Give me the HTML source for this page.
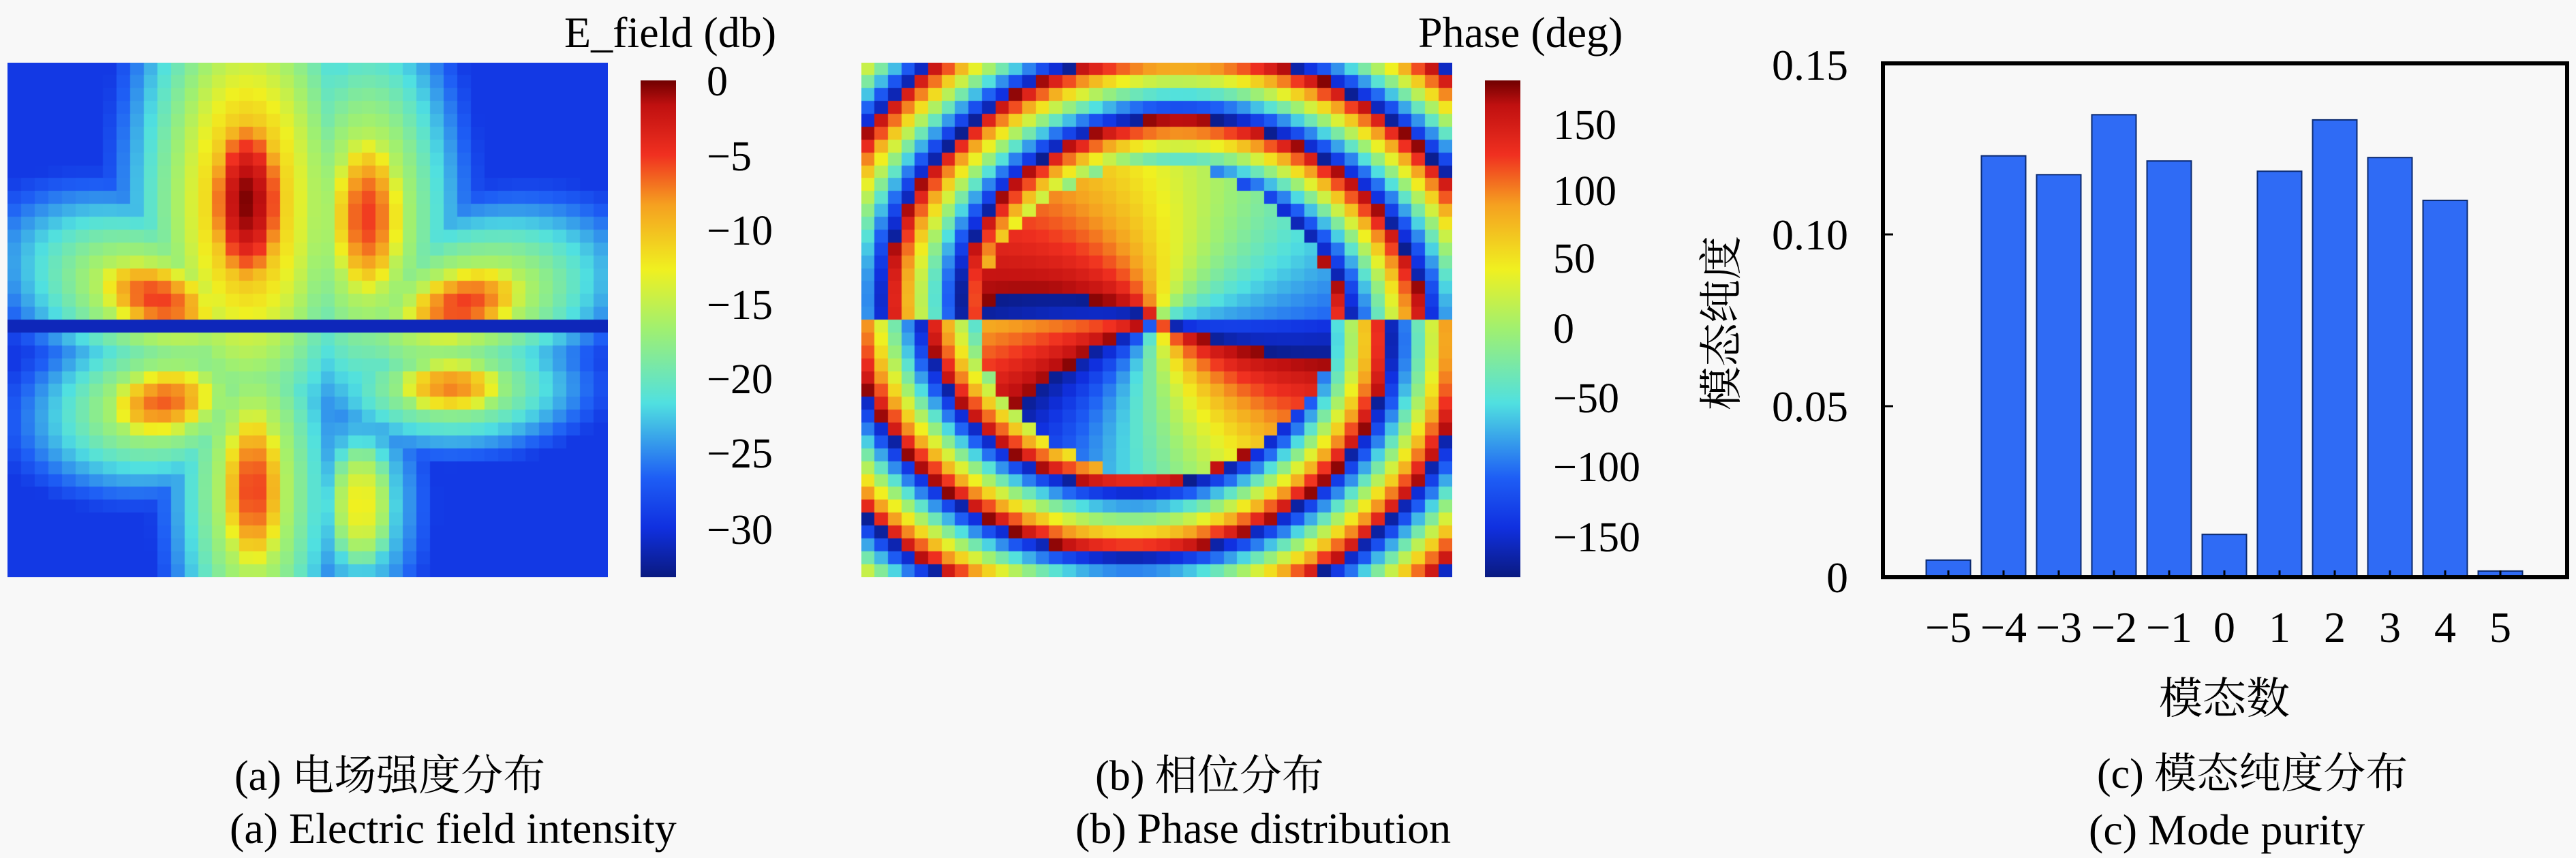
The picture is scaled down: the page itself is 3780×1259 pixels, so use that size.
<!DOCTYPE html>
<html><head><meta charset="utf-8"><style>
html,body{margin:0;padding:0;background:#f8f8f8;}
#root{position:relative;width:3780px;height:1259px;overflow:hidden;background:#f8f8f8;font-family:"Liberation Serif","Noto Serif CJK SC","Noto Sans CJK SC",serif;color:#000;}
.t{position:absolute;white-space:nowrap;font-size:62px;line-height:1;}
canvas{position:absolute;}
.cb{position:absolute;background:linear-gradient(to top,#0a1a80 0%,#1030e0 10%,#1e5ef5 20%,#50e0e0 35%,#a0f070 50%,#f0f020 62%,#f5a020 75%,#f03020 85%,#c01010 95%,#700000 100%);}
</style></head><body><div id="root">
<canvas id="ca" width="881" height="755" style="left:11px;top:92px;background:#1e5ef5"></canvas>
<div class="cb" style="left:940px;top:118px;width:52px;height:729px"></div>
<div class="t" style="left:828px;top:16px;font-size:64px">E_field (db)</div>
<div class="t" style="left:1037px;top:89px">0</div>
<div class="t" style="left:1037px;top:199px">−5</div>
<div class="t" style="left:1037px;top:308px">−10</div>
<div class="t" style="left:1037px;top:417px">−15</div>
<div class="t" style="left:1037px;top:526px">−20</div>
<div class="t" style="left:1037px;top:635px">−25</div>
<div class="t" style="left:1037px;top:747px">−30</div>

<canvas id="cbp" width="867" height="755" style="left:1264px;top:92px;background:#1e5ef5"></canvas>
<div class="cb" style="left:2179px;top:118px;width:52px;height:729px"></div>
<div class="t" style="left:2081px;top:16px;font-size:64px">Phase (deg)</div>
<div class="t" style="left:2279px;top:153px">150</div>
<div class="t" style="left:2279px;top:250px">100</div>
<div class="t" style="left:2279px;top:349px">50</div>
<div class="t" style="left:2279px;top:452px">0</div>
<div class="t" style="left:2279px;top:554px">−50</div>
<div class="t" style="left:2279px;top:655px">−100</div>
<div class="t" style="left:2279px;top:758px">−150</div>

<svg style="position:absolute;left:0;top:0" width="3780" height="1259">
<g id="bars" fill="#2f6bf5" stroke="#0b2a70" stroke-width="2"></g>
<rect x="2763" y="93" width="1004" height="754" fill="none" stroke="#000" stroke-width="6"/>
<g stroke="#000" stroke-width="3">
<line x1="2763" y1="344" x2="2778" y2="344"/><line x1="2763" y1="596" x2="2778" y2="596"/>
</g>
<g id="xt" stroke="#000" stroke-width="3"></g>
<g font-family="Liberation Serif,serif" font-size="64" text-anchor="end">
<text x="2712" y="117">0.15</text><text x="2712" y="366">0.10</text><text x="2712" y="618">0.05</text><text x="2712" y="869">0</text>
</g>
<g id="xl" font-family="Liberation Serif,serif" font-size="64" text-anchor="middle"></g>
<text x="3264" y="1047" font-size="64" text-anchor="middle" font-family="Noto Serif CJK SC,Noto Sans CJK SC,serif">模态数</text>
<text transform="translate(2548,474) rotate(-90)" font-size="64" text-anchor="middle" font-family="Noto Serif CJK SC,Noto Sans CJK SC,serif">模态纯度</text>
</svg>

<div class="t" style="left:344px;top:1108px;width:400px;text-align:center">(a) 电场强度分布</div>
<div class="t" style="left:337px;top:1184px;width:400px;text-align:center;font-size:64px">(a) Electric field intensity</div>
<div class="t" style="left:1575px;top:1108px;width:400px;text-align:center">(b) 相位分布</div>
<div class="t" style="left:1578px;top:1184px;width:400px;text-align:center;font-size:64px">(b) Phase distribution</div>
<div class="t" style="left:3077px;top:1105px;width:400px;text-align:center">(c) 模态纯度分布</div>
<div class="t" style="left:3065px;top:1186px;width:400px;text-align:center;font-size:64px">(c) Mode purity</div>
</div>
<script>
var stops=[[0,[10,26,128]],[0.1,[16,48,224]],[0.2,[30,94,245]],[0.35,[80,224,224]],[0.5,[160,240,112]],[0.62,[240,240,32]],[0.75,[245,160,32]],[0.85,[240,48,32]],[0.95,[192,16,16]],[1,[112,0,0]]];
function cmap(t){t=Math.max(0,Math.min(1,t));for(var i=1;i<stops.length;i++){if(t<=stops[i][0]){var a=stops[i-1],b=stops[i],f=(t-a[0])/(b[0]-a[0]);return 'rgb('+[0,1,2].map(function(k){return Math.round(a[1][k]+(b[1][k]-a[1][k])*f)}).join(',')+')';}}return 'rgb(112,0,0)';}
// panel a
(function(){var c=document.getElementById('ca').getContext('2d');var W=881,H=755,nx=44,ny=40;
var L=[[0.40,0.27,0.045,0.12,0,0],[0.60,0.30,0.045,0.12,-5,0],[0.25,0.46,0.08,0.05,-5,0.5],[0.76,0.47,0.08,0.05,-5,-0.4],[0.26,0.66,0.07,0.05,-6,-0.3],[0.74,0.63,0.07,0.04,-7,0],[0.41,0.83,0.04,0.12,-5,0],[0.59,0.86,0.045,0.10,-12,0]];
for(var j=0;j<ny;j++)for(var i=0;i<nx;i++){var u=(i+0.5)/nx,v=(j+0.5)/ny,best=-29;
for(var k=0;k<L.length;k++){var l=L[k],dx=u-l[0],dy=v-l[1],cs=Math.cos(l[5]),sn=Math.sin(l[5]);var a=(dx*cs+dy*sn)/l[2],b=(-dx*sn+dy*cs)/l[3];var d=Math.sqrt(a*a+b*b);var val=l[4]-6*d*d;if(d>1.3)val=l[4]-10.1-4.5*(d-1.3);best=Math.max(best,val);}
if(j==20)best=Math.min(best,-31);
c.fillStyle=cmap((best+33)/33.3);c.fillRect(Math.floor(u*W-W/nx/2),Math.floor(v*H-H/ny/2),Math.ceil(W/nx)+1,Math.ceil(H/ny)+1);}})();
// panel b
(function(){var c=document.getElementById('cbp').getContext('2d');var W=867,H=755,nx=44,ny=40;
for(var j=0;j<ny;j++)for(var i=0;i<nx;i++){var u=(i+0.5)/nx-0.5,v=(j+0.5)/ny-0.5;var r=Math.sqrt(u*u+v*v),th=Math.atan2(v,u)*180/Math.PI;
var ph=(-2*th*Math.PI/180+r*2*Math.PI/0.13)*180/Math.PI;
if(r<0.3){if(v<0){ph=-1.67*th-75;}else{ph=-2.78*th+255;}ph-=120*r;}
if(v>0&&r>=0.3)ph+=180;
ph=((ph+180)%360+360)%360-180;
c.fillStyle=cmap((ph+185)/370);c.fillRect(Math.floor((u+0.5)*W-W/nx/2),Math.floor((v+0.5)*H-H/ny/2),Math.ceil(W/nx)+1,Math.ceil(H/ny)+1);}})();
// bars
(function(){var vals=[0.005,0.123,0.1175,0.135,0.1215,0.0125,0.1185,0.1335,0.1225,0.11,0.0018];var g=document.getElementById('bars'),xt=document.getElementById('xt'),xl=document.getElementById('xl');var ns='http://www.w3.org/2000/svg';
for(var k=-5;k<=5;k++){var cx=3588+(k-4)*81,v=vals[k+5],h=v*5027;var r=document.createElementNS(ns,'rect');r.setAttribute('x',cx-32.5);r.setAttribute('y',847-h);r.setAttribute('width',65);r.setAttribute('height',h);g.appendChild(r);
var l=document.createElementNS(ns,'line');l.setAttribute('x1',cx);l.setAttribute('x2',cx);l.setAttribute('y1',847);l.setAttribute('y2',837);xt.appendChild(l);
var t=document.createElementNS(ns,'text');t.setAttribute('x',cx);t.setAttribute('y',942);t.textContent=(k<0?'−':'')+Math.abs(k);xl.appendChild(t);}})();
</script>
</body></html>
